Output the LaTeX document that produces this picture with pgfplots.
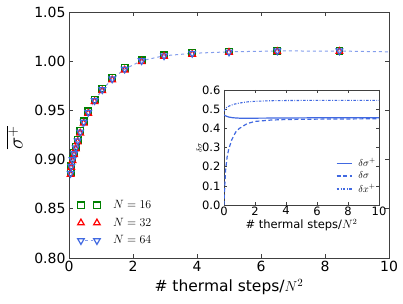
\documentclass[border=0pt]{standalone}
\usepackage{pgfplots}
\pgfplotsset{compat=1.18}
\usepackage{fontspec}
\setmainfont{DejaVu Sans}
\definecolor{mgreen}{rgb}{0,0.5,0}
\definecolor{mred}{rgb}{1,0,0}
\definecolor{mblue}{RGB}{65,105,225}
\pgfplotsset{
  twomarks/.style={legend image code/.code={\path (-4pt,0pt) (30pt,0pt); \draw[##1] plot coordinates {(0pt,0pt) (16pt,0pt)};}},
  twomarksdash/.style={legend image code/.code={\path (-4pt,0pt) (30pt,0pt); \draw[mblue!65, dashed, line width=1pt] (4pt,0pt)--(12pt,0pt); \draw[##1] plot coordinates {(0pt,0pt) (16pt,0pt)};}},
  shortline/.style={legend image code/.code={\path (0pt,0pt) (19pt,0pt); \draw[line width=1.2pt, ##1] (0pt,0pt)--(15pt,0pt);}},
}
\begin{document}
\begin{tikzpicture}[x=1pt,y=1pt]
\path (0,0) rectangle (403,304);
\begin{axis}[at={(69pt,46pt)}, anchor=south west, scale only axis,
  width=320pt, height=246pt,
  xmin=0, xmax=10, ymin=0.80, ymax=1.05,
  xtick={0,2,4,6,8,10}, ytick={0.80,0.85,0.90,0.95,1.00,1.05},
  yticklabel style={/pgf/number format/.cd, fixed, fixed zerofill, precision=2},
  /pgf/number format/assume math mode=true,
  tick align=inside, tick pos=both, major tick length=4pt,
  axis line style={black!75, line width=0.9pt},
  tick style={black!75, line width=0.7pt},
  tick label style={font=\fontsize{14}{16}\selectfont},
  xlabel={\# thermal steps/$N^2$},
  xlabel style={font=\fontsize{15.5}{18}\selectfont, at={(axis description cs:0.5,-0.118)}, anchor=center},
  ylabel={$\overline{\sigma^{+}}$},
  ylabel style={font=\fontsize{20}{22}\selectfont, at={(axis description cs:-0.17,0.49)}, anchor=center, rotate=0},
  legend style={at={(axis description cs:0.022,0.04)}, anchor=south west, draw=none, fill=none,
    font=\fontsize{12}{13}\selectfont, row sep=4pt, inner sep=0.5pt},
  legend cell align=left,
]
% dashed fit line (N=64)
\addplot[mblue!65, dashed, line width=1pt, forget plot] coordinates {
(0.05,0.886) (0.07,0.893) (0.11,0.900) (0.16,0.906) (0.21,0.912) (0.27,0.919) (0.35,0.928) (0.46,0.938) (0.60,0.948) (0.80,0.960) (1.04,0.971) (1.35,0.982) (1.74,0.992) (2.27,1.0005) (2.97,1.0055) (3.85,1.008) (5.0,1.0095) (6.51,1.0104) (8.45,1.0103) (10,1.0095)};
\addplot[only marks, mgreen, mark=square, mark size=3.3pt, mark options={line width=1.2pt}, twomarks] coordinates {
(0.05,0.887) (0.07,0.894) (0.11,0.901) (0.16,0.907) (0.21,0.913) (0.27,0.920) (0.35,0.929) (0.46,0.939) (0.60,0.949) (0.80,0.961) (1.04,0.972) (1.35,0.983) (1.74,0.993) (2.27,1.001) (2.97,1.006) (3.85,1.0085) (5.0,1.0098) (6.51,1.0106) (8.45,1.0106)};
\addlegendentry{$N=16$}
\addplot[only marks, mred, mark=triangle, mark size=3.8pt, mark options={line width=1.2pt}, twomarks] coordinates {
(0.05,0.885) (0.07,0.892) (0.11,0.899) (0.16,0.905) (0.21,0.911) (0.27,0.918) (0.35,0.927) (0.46,0.937) (0.60,0.947) (0.80,0.959) (1.04,0.970) (1.35,0.981) (1.74,0.991) (2.27,0.9995) (2.97,1.005) (3.85,1.007) (5.0,1.009) (6.51,1.0098) (8.45,1.0100)};
\addlegendentry{$N=32$}
\addplot[only marks, mblue, mark=triangle, mark size=3.8pt, mark options={line width=1.2pt, rotate=180}, twomarksdash] coordinates {
(0.05,0.886) (0.07,0.893) (0.11,0.900) (0.16,0.906) (0.21,0.912) (0.27,0.919) (0.35,0.928) (0.46,0.938) (0.60,0.948) (0.80,0.960) (1.04,0.971) (1.35,0.982) (1.74,0.992) (2.27,1.0005) (2.97,1.0055) (3.85,1.008) (5.0,1.0093) (6.51,1.0104) (8.45,1.0104)};
\addlegendentry{$N=64$}
\end{axis}
\begin{axis}[at={(224pt,99pt)}, anchor=south west, scale only axis,
  width=155pt, height=115pt,
  xmin=0, xmax=10, ymin=0, ymax=0.6,
  xtick={0,2,4,6,8,10}, ytick={0,0.1,0.2,0.3,0.4,0.5,0.6},
  yticklabel style={/pgf/number format/.cd, fixed, fixed zerofill, precision=1},
  /pgf/number format/assume math mode=true,
  axis background/.style={fill=white},
  tick align=inside, tick pos=both, major tick length=3pt,
  axis line style={black!75, line width=0.9pt},
  tick style={black!75, line width=0.6pt},
  tick label style={font=\fontsize{11.5}{13}\selectfont},
  xticklabel style={yshift=2pt},
  xlabel={\# thermal steps/$N^2$},
  xlabel style={font=\fontsize{11.5}{13}\selectfont, at={(axis description cs:0.5,-0.175)}, anchor=center},
  ylabel={$\delta\sigma$},
  ylabel style={font=\fontsize{8}{9}\selectfont, at={(axis description cs:-0.16,0.5)}, anchor=center, rotate=0},
  legend style={at={(axis description cs:1.0,0.07)}, anchor=south east, draw=none, fill=none,
    font=\fontsize{10}{11}\selectfont, row sep=0pt, inner sep=1pt},
  legend cell align=left,
  shortline,
]
\addplot[mblue, line width=1.2pt] coordinates {
(0,0.470) (0.1,0.465) (0.3,0.459) (0.6,0.455) (1,0.453) (2,0.453) (4,0.454) (6,0.455) (8,0.455) (10,0.455)};
\addlegendentry{$\delta\sigma^+$}
\addplot[mblue, line width=1.2pt, dash pattern=on 4pt off 2.5pt] coordinates {
(0,0) (0.02,0.04) (0.05,0.10) (0.1,0.18) (0.2,0.25) (0.3,0.29) (0.5,0.34) (0.75,0.38) (1,0.40) (1.5,0.425) (2,0.436) (3,0.443) (4,0.446) (6,0.448) (8,0.449) (10,0.45)};
\addlegendentry{$\delta\sigma$}
\addplot[mblue, line width=1.1pt, dash pattern=on 2.5pt off 1.5pt on 0.8pt off 1.5pt] coordinates {
(0,0.49) (0.1,0.505) (0.3,0.515) (0.6,0.525) (1,0.532) (1.5,0.538) (2,0.541) (3,0.544) (4,0.545) (6,0.546) (10,0.546)};
\addlegendentry{$\delta x^+$}
\end{axis}
\end{tikzpicture}
\end{document}
